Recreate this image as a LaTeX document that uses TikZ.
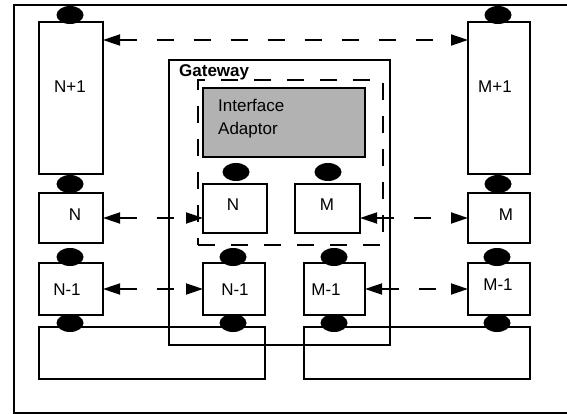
\documentclass[tikz,border=0pt]{standalone}
\usepackage{fontspec}
\setmainfont{Liberation Sans}
\usetikzlibrary{arrows.meta,calc,shapes.geometric}
\begin{document}
\begin{tikzpicture}[x=1pt,y=-1pt,
  box/.style={draw,line width=1.8pt,inner sep=0pt,outer sep=0pt,fill=white},
  dot/.style={ellipse,fill=black,draw=none,minimum width=27pt,minimum height=18pt,inner sep=0pt},
  lbl/.style={font=\fontsize{17}{20}\selectfont,inner sep=0pt},
  darr/.style={line width=1.8pt,dash pattern=on 17pt off 20pt,
    {Triangle[length=17pt,width=11pt]}-{Triangle[length=17pt,width=11pt]}},
  frame/.style={line width=1.8pt}]
\useasboundingbox (0,0) rectangle (567,414);
% outer frame
\draw[frame] (567,5) -- (14,5) -- (14,413) -- (567,413);
% gateway
\node[box,fill=none,minimum width=221pt,minimum height=285pt] (gw) at (279.5,202.5) {};
\node[font=\bfseries\fontsize{17}{20}\selectfont,inner sep=0pt,anchor=base west] (gwl) at (179,77) {Gateway};
\node[draw,line width=1.8pt,dash pattern=on 17pt off 16pt,inner sep=0pt,outer sep=0pt,minimum width=185pt,minimum height=165pt] (ia) at (290.5,162.5) {};
\node[box,fill=black!30,minimum width=162pt,minimum height=69pt] (iab) at (284,122.5) {};
\node[lbl,anchor=base west] (t1) at (218,112) {Interface};
\node[lbl,anchor=base west] (t2) at (218,135) {Adaptor};
% left column
\node[box,minimum width=64pt,minimum height=152pt] (np1) at (71,98) {};
\node[box,minimum width=64pt,minimum height=50pt] (nl) at (71,218) {};
\node[box,minimum width=64pt,minimum height=52pt] (nm1l) at (71,289) {};
\node[box,fill=none,minimum width=226pt,minimum height=52pt] (barl) at (152,353) {};
% inner boxes
\node[box,minimum width=64pt,minimum height=49pt] (inn) at (235,208.5) {};
\node[box,minimum width=65pt,minimum height=49pt] (inm) at (327.5,208.5) {};
\node[box,minimum width=62pt,minimum height=52pt] (innm1) at (234,289) {};
\node[box,minimum width=61pt,minimum height=52pt] (inmm1) at (334.5,289) {};
% right column
\node[box,fill=none,minimum width=226pt,minimum height=52pt] (barr) at (417,353) {};
\node[box,minimum width=62pt,minimum height=152pt] (mp1) at (499,98) {};
\node[box,minimum width=62pt,minimum height=50pt] (mr) at (499,218) {};
\node[box,minimum width=62pt,minimum height=52pt] (mm1r) at (499,289) {};
% labels
\node[lbl] (lnp1) at (70,87) {N+1};
\node[lbl] (lnl) at (75,215) {N};
\node[lbl] (lnm1l) at (67,290) {N-1};
\node[lbl] (linn) at (233,205) {N};
\node[lbl] (linm) at (327,205) {M};
\node[lbl] (linnm1) at (235,290) {N-1};
\node[lbl] (linmm1) at (326,290) {M-1};
\node[lbl] (lmp1) at (495,87) {M+1};
\node[lbl] (lmr) at (506,215) {M};
\node[lbl] (lmm1r) at (498,285) {M-1};
% connectors
\draw[darr] ($(np1.north east)+(0,18)$) -- ($(mp1.north west)+(0,18)$);
\draw[darr] (nl.east) -- (nl.east -| inn.west);
\draw[darr] (mr.west -| inm.east) -- (mr.west);
\draw[darr] (nm1l.east) -- (innm1.west);
\draw[darr] (inmm1.east) -- (mm1r.west);
% joints
\node[dot] (d1) at (70,15) {};
\node[dot] (d2) at (70,184) {};
\node[dot] (d3) at (70,257) {};
\node[dot] (d4) at (70,323) {};
\node[dot] (d5) at (236,172) {};
\node[dot] (d6) at (328,172) {};
\node[dot] (d7) at (233,257) {};
\node[dot] (d8) at (233,323) {};
\node[dot] (d9) at (334,257) {};
\node[dot] (d10) at (334,323) {};
\node[dot] (d11) at (498,15) {};
\node[dot] (d12) at (498,184) {};
\node[dot] (d13) at (497,257) {};
\node[dot] (d14) at (497,323) {};
\end{tikzpicture}
\end{document}
